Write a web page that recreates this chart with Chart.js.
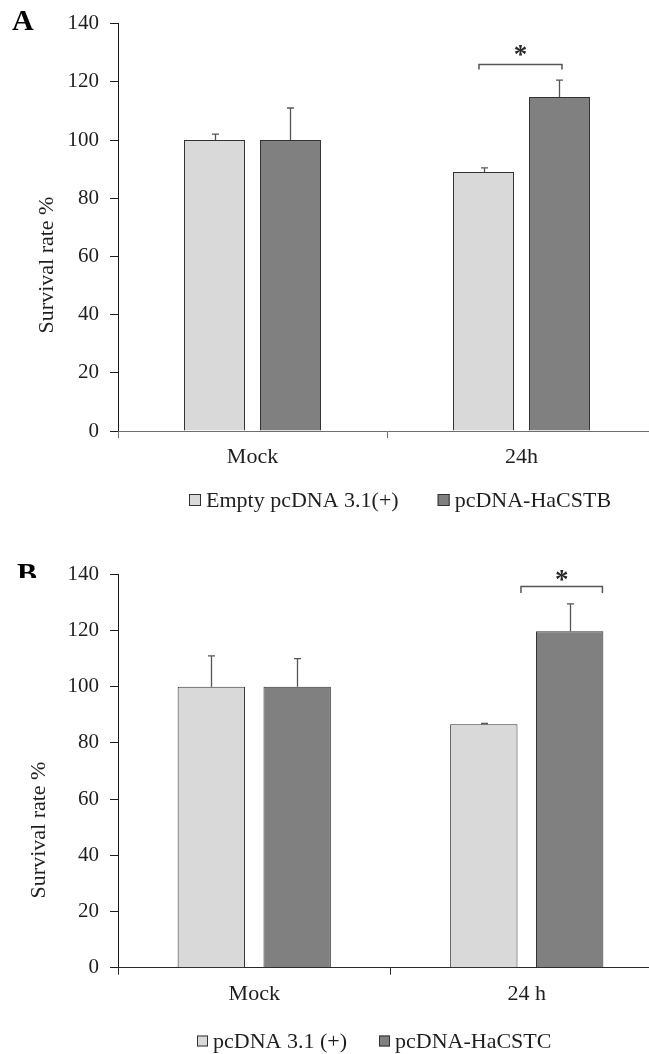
<!DOCTYPE html>
<html><head><meta charset="utf-8">
<script src="https://cdn.jsdelivr.net/npm/chart.js@4.4.0/dist/chart.umd.min.js"></script>
<style>
html,body{margin:0;padding:0;background:#fff;overflow:hidden;width:649px;height:1054px}
.wrap{position:absolute;left:0;width:670px;height:527px}
#wa{top:0} #wb{top:527px}
canvas{display:block}
</style></head><body>
<div class="wrap" id="wa"><canvas id="ca" width="670" height="527"></canvas></div>
<div class="wrap" id="wb"><canvas id="cb" width="670" height="527"></canvas></div>
<script>
// ---- data ----
const categoriesA = ['Mock', '24h'];
const seriesNamesA = ['Empty pcDNA 3.1(+)', 'pcDNA-HaCSTB'];
const controlA = [100, 89.0];
const controlErrA = [2.0, 1.4];
const geneA = [100, 114.8];
const geneErrA = [11.0, 5.8];

const categoriesB = ['Mock', '24 h'];
const seriesNamesB = ['pcDNA 3.1 (+)', 'pcDNA-HaCSTC'];
const controlB = [100, 86.6];
const controlErrB = [11.0, 0.3];
const geneB = [100, 119.7];
const geneErrB = [10.0, 9.8];

const yTicks = [0, 20, 40, 60, 80, 100, 120, 140];
const yTitle = 'Survival rate %';
const sigMark = '*';
const panelA = 'A';
const panelB = 'B';

// ---- style ----
const FONT = 'Liberation Serif';
const LIGHT = '#d9d9d9';
const DARK = '#808080';
const EDGE = '#333333';
const INK = '#1e1e1e';

const decor = {
  id: 'decor',
  afterDatasetsDraw(chart) {
    const o = chart.options.plugins.decor;
    const ctx = chart.ctx;
    const ys = chart.scales.y, xs = chart.scales.x;
    // error bars
    ctx.save();
    ctx.strokeStyle = '#555555';
    ctx.lineWidth = 1.3;
    chart.data.datasets.forEach((ds, i) => {
      const meta = chart.getDatasetMeta(i);
      meta.data.forEach((bar, j) => {
        const v = ds.data[j], e = ds.errors[j];
        const yt = ys.getPixelForValue(v + e);
        const x = Math.round(bar.x) + 0.5;
        ctx.beginPath();
        ctx.moveTo(x, bar.y);
        ctx.lineTo(x, yt);
        ctx.moveTo(x - 3.5, yt);
        ctx.lineTo(x + 3.5, yt);
        ctx.stroke();
      });
    });
    ctx.restore();
    // significance bracket
    const b = o.bracket;
    const x0 = xs.getPixelForValue(b.x0), x1 = xs.getPixelForValue(b.x1);
    const by = Math.round(ys.getPixelForValue(b.y)) + 0.5;
    ctx.save();
    ctx.strokeStyle = '#555555';
    ctx.lineWidth = 1.5;
    ctx.beginPath();
    ctx.moveTo(x0, by + b.drop);
    ctx.lineTo(x0, by);
    ctx.lineTo(x1, by);
    ctx.lineTo(x1, by + b.drop);
    ctx.stroke();
    ctx.fillStyle = '#2a2a2a';
    ctx.font = 'bold 27px ' + FONT;
    ctx.textAlign = 'center';
    ctx.textBaseline = 'alphabetic';
    const m = ctx.measureText(sigMark);
    const cy = by - b.starUp;
    ctx.fillText(sigMark, (x0 + x1) / 2, cy + (m.actualBoundingBoxAscent - m.actualBoundingBoxDescent) / 2);
    ctx.restore();
  },
  afterDraw(chart) {
    const o = chart.options.plugins.decor;
    const ctx = chart.ctx;
    // y title
    ctx.save();
    ctx.translate(o.title.x, o.title.y);
    ctx.rotate(-Math.PI / 2);
    ctx.fillStyle = INK;
    ctx.font = '22px ' + FONT;
    ctx.textAlign = 'center';
    ctx.textBaseline = 'middle';
    ctx.fillText(yTitle, 0, 0);
    ctx.restore();
    // legend
    const L = o.legend;
    ctx.save();
    ctx.font = '22px ' + FONT;
    ctx.textBaseline = 'middle';
    ctx.textAlign = 'left';
    let x = L.x;
    chart.data.datasets.forEach((ds) => {
      ctx.fillStyle = ds.backgroundColor;
      ctx.fillRect(x, L.y - L.box / 2, L.box, L.box);
      ctx.strokeStyle = EDGE;
      ctx.lineWidth = 1;
      ctx.strokeRect(x + 0.5, L.y - L.box / 2 + 0.5, L.box - 1, L.box - 1);
      x += L.box + L.gap;
      ctx.fillStyle = INK;
      ctx.fillText(ds.label, x, L.y + 1);
      x += ctx.measureText(ds.label).width + L.itemGap;
    });
    ctx.restore();
    // panel letter
    const P = o.panel;
    ctx.save();
    ctx.beginPath();
    ctx.rect(0, 0, 80, P.clip);
    ctx.clip();
    ctx.fillStyle = '#000';
    ctx.font = 'bold 30px ' + FONT;
    ctx.textBaseline = 'alphabetic';
    ctx.fillText(P.text, P.x, P.y);
    ctx.restore();
  }
};

function makeChart(id, cats, names, c, ce, g, ge, cfg) {
  return new Chart(document.getElementById(id), {
    type: 'bar',
    data: {
      labels: cats,
      datasets: [
        { label: names[0], data: c, errors: ce, backgroundColor: LIGHT, borderColor: EDGE, borderWidth: 1 },
        { label: names[1], data: g, errors: ge, backgroundColor: DARK, borderColor: EDGE, borderWidth: 1 }
      ]
    },
    options: {
      responsive: false,
      animation: false,
      devicePixelRatio: 1,
      categoryPercentage: cfg.catPct,
      barPercentage: cfg.barPct,
      layout: { padding: { left: 0, right: cfg.padRight, top: cfg.padTop, bottom: 0 } },
      plugins: {
        legend: { display: false },
        tooltip: { enabled: false },
        decor: cfg.decor
      },
      scales: {
        y: {
          min: 0, max: 140,
          afterFit: s => { s.width = 118; },
          afterBuildTicks: s => { s.ticks = yTicks.map(v => ({ value: v })); },
          border: { color: '#1a1a1a', width: 1 },
          grid: { drawOnChartArea: false, tickLength: 8, color: '#1a1a1a' },
          ticks: { padding: 11, color: INK, font: { family: FONT, size: 21 } }
        },
        x: {
          afterFit: s => { s.height = cfg.xHeight; },
          border: { color: cfg.xColor, width: 1 },
          grid: { drawOnChartArea: false, tickLength: 7, color: cfg.xColor, offset: true },
          ticks: { padding: cfg.xPad, color: INK, font: { family: FONT, size: 22 } }
        }
      }
    },
    plugins: [decor]
  });
}

makeChart('ca', categoriesA, seriesNamesA, controlA, controlErrA, geneA, geneErrA, {
  catPct: 0.565, barPct: 0.8026, padRight: 14, padTop: 20, xHeight: 96, xColor: '#6e6e6e', xPad: 6,
  decor: {
    bracket: { x0: 0.842, x1: 1.1506, y: 126.1, drop: 5, starUp: 14 },
    title: { x: 47.5, y: 265 },
    legend: { x: 189, y: 500, box: 12, gap: 5, itemGap: 39 },
    panel: { text: panelA, x: 12, y: 30, clip: 60 }
  }
});

makeChart('cb', categoriesB, seriesNamesB, controlB, controlErrB, geneB, geneErrB, {
  catPct: 0.63, barPct: 0.785, padRight: 7, padTop: 47.3, xHeight: 86.3, xColor: '#2a2a2a', xPad: 6,
  decor: {
    bracket: { x0: 0.9788, x1: 1.2777, y: 135.8, drop: 6.5, starUp: 11 },
    title: { x: 39.5, y: 303 },
    legend: { x: 197, y: 514, box: 11, gap: 5, itemGap: 32 },
    panel: { text: panelB, x: 17, y: 56, clip: 51 }
  }
});
</script>
</body></html>
